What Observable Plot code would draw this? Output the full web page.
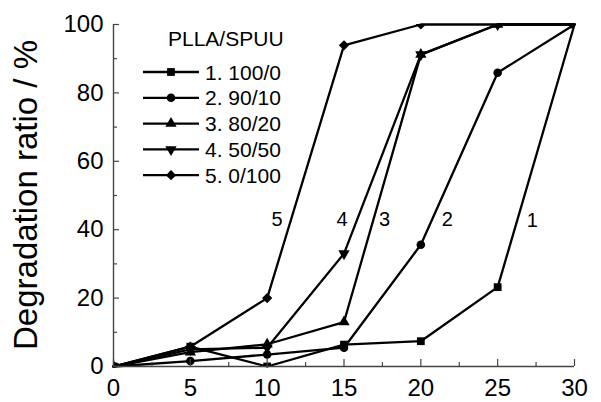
<!DOCTYPE html>
<html>
<head>
<meta charset="utf-8">
<script src="https://cdn.jsdelivr.net/npm/d3@7"></script>
<script src="https://cdn.jsdelivr.net/npm/@observablehq/plot@0.6"></script>
<style>
  body { margin: 0; background: white; }
  #chart svg { display: block; }
</style>
</head>
<body>
<div id="chart"></div>
<script>
// ---- data ----
const days = [0, 5, 10, 15, 20, 25, 30];
const seriesNames = ["1. 100/0", "2. 90/10", "3. 80/20", "4. 50/50", "5. 0/100"];
const s1 = [0, 5.8, 0, 6.4, 7.4, 23.2, 100];
const s2 = [0, 1.6, 3.5, 5.5, 35.6, 85.9, 100];
const s3 = [0, 4.2, 6.5, 13, 91.2, 100, 100];
const s4 = [0, 5.0, 5.5, 33, 91.2, 100, 100];
const s5 = [0, 5.8, 20, 93.9, 100, 100, 100];
const seriesValues = [s1, s2, s3, s4, s5];
const curveLabels = ["1", "2", "3", "4", "5"];
const curveLabelX = [27.25, 21.72, 17.64, 14.88, 10.65];
const curveLabelY = [42.6, 42.9, 42.9, 42.9, 42.9];
const xTicks = [0, 5, 10, 15, 20, 25, 30];
const xMinor = [2.5, 7.5, 12.5, 17.5, 22.5, 27.5];
const yTicks = [0, 20, 40, 60, 80, 100];
const yMinor = [10, 30, 50, 70, 90];
const legendTitle = "PLLA/SPUU";
const yTitle = "Degradation ratio / %";

// ---- build ----
const rows = seriesNames.flatMap((s, i) => days.map((d, j) => ({series: s, x: d, y: seriesValues[i][j]})));
const labels = curveLabels.map((t, i) => ({text: t, x: curveLabelX[i], y: curveLabelY[i]}));
const symbolStyle = [
  {symbol: "square", r: 4.4, rotate: 0},
  {symbol: "circle", r: 4.3, rotate: 0},
  {symbol: "triangle", r: 4.2, rotate: 0},
  {symbol: "triangle", r: 4.2, rotate: 180},
  {symbol: "diamond2", r: 4.6, rotate: 0}
];

const W = 601, H = 402, mL = 113, mR = 27, mT = 24, mB = 36;
const pw = W - mL - mR, ph = H - mT - mB;
const axisColor = "#444";
const font = "Arial, 'Liberation Sans', Helvetica, sans-serif";

const chart = Plot.plot({
  width: W, height: H,
  marginLeft: mL, marginRight: mR, marginTop: mT, marginBottom: mB,
  style: {fontFamily: font, fontSize: "24px", color: "black", background: "white"},
  x: {domain: [0, 30], label: null},
  y: {domain: [0, 100], label: null},
  marks: [
    Plot.line(rows, {x: "x", y: "y", z: "series", stroke: "black", strokeWidth: 2.3}),
    ...seriesNames.map((s, i) => Plot.dot(rows.filter(d => d.series === s), {
      x: "x", y: "y", symbol: symbolStyle[i].symbol, r: symbolStyle[i].r,
      rotate: symbolStyle[i].rotate, fill: "black", stroke: "none", clip: true
    })),
    Plot.text(labels, {x: "x", y: "y", text: "text", fontSize: 20, fill: "black"}),
    // ticks (inward)
    Plot.ruleY(yTicks, {y: d => d, stroke: axisColor, strokeWidth: 1.2, insetRight: pw - 6}),
    Plot.ruleY(yMinor, {y: d => d, stroke: axisColor, strokeWidth: 1.2, insetRight: pw - 4}),
    Plot.ruleX(xTicks, {x: d => d, stroke: axisColor, strokeWidth: 1.2, insetTop: ph - 7}),
    Plot.ruleX(xMinor, {x: d => d, stroke: axisColor, strokeWidth: 1.2, insetTop: ph - 4}),
    // axis lines
    Plot.ruleX([0], {stroke: axisColor, strokeWidth: 1.4}),
    Plot.ruleY([0], {stroke: axisColor, strokeWidth: 1.4}),
    Plot.axisX({ticks: xTicks, tickSize: 0, tickPadding: 12, fontSize: 24, label: null}),
    Plot.axisY({ticks: yTicks, tickSize: 0, tickPadding: 10, fontSize: 24, label: null})
  ]
});
document.getElementById("chart").appendChild(chart);

// ---- y title and legend ----
const svg = d3.select(chart);
svg.append("text")
  .attr("transform", "translate(37,195) rotate(-90)")
  .attr("text-anchor", "middle")
  .attr("font-family", font)
  .attr("font-size", 33)
  .attr("fill", "black")
  .text(yTitle);

const lg = svg.append("g").attr("font-family", font).attr("fill", "black").attr("text-anchor", "start");
lg.append("text").attr("x", 168).attr("y", 45.5).attr("font-size", 21).attr("text-anchor", "start").text(legendTitle);
const d3sym = {square: d3.symbolSquare, circle: d3.symbolCircle, triangle: d3.symbolTriangle, diamond2: d3.symbolDiamond2};
seriesNames.forEach((s, i) => {
  const y = 72 + i * 25.8;
  lg.append("line").attr("x1", 143).attr("x2", 199).attr("y1", y).attr("y2", y)
    .attr("stroke", "black").attr("stroke-width", 2.3);
  const st = symbolStyle[i];
  lg.append("path")
    .attr("d", d3.symbol(d3sym[st.symbol], st.r * st.r * Math.PI)())
    .attr("transform", `translate(171,${y}) rotate(${st.rotate})`)
    .attr("fill", "black");
  lg.append("text").attr("x", 205).attr("y", y + 7.5).attr("font-size", 21)
    .attr("text-anchor", "start").text(s);
});
</script>
</body>
</html>
